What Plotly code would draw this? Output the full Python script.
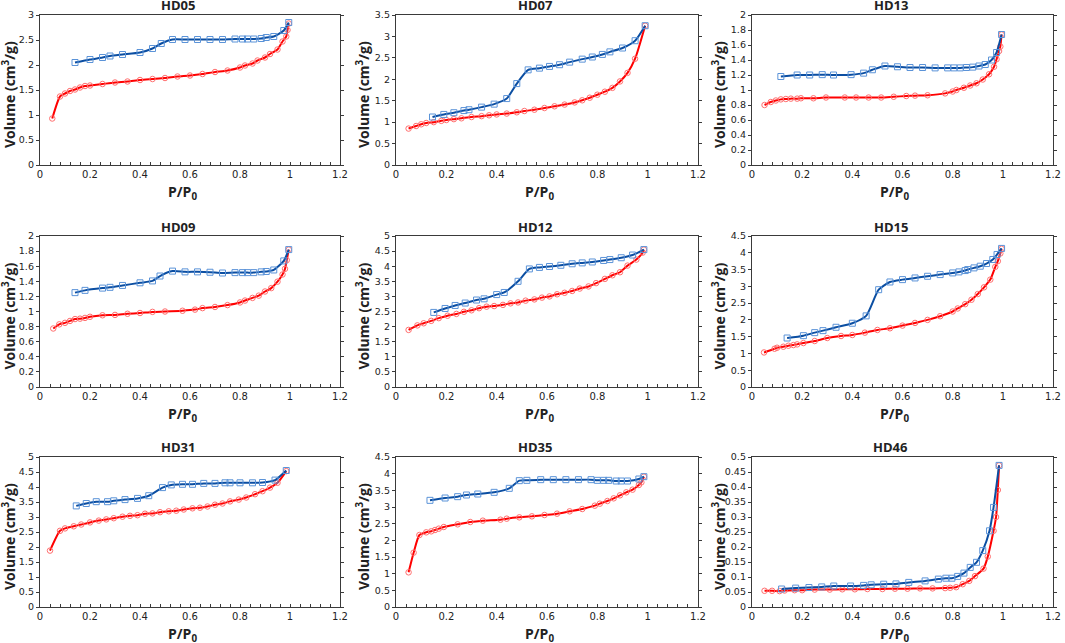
import plotly.graph_objects as go

# ---------------- data ----------------
sample_names = ["HD05", "HD07", "HD13", "HD09", "HD12", "HD15", "HD31", "HD35", "HD46"]

hd05_ads_x = [0.049, 0.08, 0.10, 0.12, 0.14, 0.16, 0.18, 0.20, 0.25, 0.30, 0.35, 0.40, 0.45, 0.50, 0.55, 0.60, 0.65, 0.70, 0.75, 0.80, 0.82, 0.85, 0.87, 0.90, 0.92, 0.95, 0.97, 0.985, 0.99, 0.995]
hd05_ads_y = [0.93, 1.37, 1.43, 1.48, 1.51, 1.55, 1.58, 1.59, 1.62, 1.65, 1.67, 1.70, 1.72, 1.74, 1.77, 1.79, 1.82, 1.86, 1.89, 1.95, 1.99, 2.03, 2.09, 2.15, 2.22, 2.31, 2.47, 2.57, 2.70, 2.83]
hd05_des_x = [0.995, 0.975, 0.935, 0.905, 0.885, 0.855, 0.83, 0.81, 0.78, 0.73, 0.68, 0.63, 0.58, 0.53, 0.485, 0.45, 0.40, 0.33, 0.28, 0.25, 0.20, 0.14]
hd05_des_y = [2.85, 2.69, 2.57, 2.55, 2.53, 2.52, 2.52, 2.52, 2.52, 2.51, 2.51, 2.51, 2.51, 2.51, 2.43, 2.33, 2.25, 2.21, 2.18, 2.15, 2.11, 2.05]

hd07_ads_x = [0.05, 0.08, 0.10, 0.12, 0.15, 0.18, 0.20, 0.23, 0.26, 0.30, 0.34, 0.37, 0.40, 0.44, 0.48, 0.51, 0.55, 0.59, 0.63, 0.67, 0.71, 0.74, 0.77, 0.80, 0.83, 0.86, 0.89, 0.92, 0.95, 0.99]
hd07_ads_y = [0.85, 0.91, 0.95, 0.98, 1.00, 1.03, 1.05, 1.07, 1.09, 1.12, 1.14, 1.16, 1.18, 1.20, 1.23, 1.26, 1.29, 1.33, 1.37, 1.41, 1.46, 1.51, 1.57, 1.64, 1.71, 1.80, 1.95, 2.15, 2.48, 3.25]
hd07_des_x = [0.99, 0.95, 0.90, 0.85, 0.82, 0.78, 0.74, 0.69, 0.65, 0.61, 0.57, 0.525, 0.48, 0.44, 0.39, 0.34, 0.29, 0.27, 0.23, 0.19, 0.145]
hd07_des_y = [3.25, 2.90, 2.73, 2.64, 2.58, 2.52, 2.47, 2.40, 2.34, 2.30, 2.26, 2.22, 1.90, 1.55, 1.42, 1.35, 1.29, 1.27, 1.22, 1.18, 1.12]

hd13_ads_x = [0.05, 0.075, 0.095, 0.115, 0.135, 0.155, 0.18, 0.195, 0.245, 0.295, 0.37, 0.415, 0.465, 0.515, 0.565, 0.615, 0.65, 0.70, 0.77, 0.80, 0.815, 0.845, 0.87, 0.895, 0.92, 0.945, 0.965, 0.975, 0.985, 0.99, 0.995]
hd13_ads_y = [0.80, 0.84, 0.86, 0.875, 0.88, 0.885, 0.885, 0.89, 0.89, 0.90, 0.90, 0.90, 0.90, 0.90, 0.91, 0.92, 0.925, 0.93, 0.955, 0.98, 1.00, 1.03, 1.06, 1.09, 1.14, 1.21, 1.31, 1.41, 1.52, 1.58, 1.74]
hd13_des_x = [0.995, 0.975, 0.955, 0.93, 0.905, 0.88, 0.855, 0.83, 0.805, 0.78, 0.73, 0.68, 0.63, 0.58, 0.53, 0.48, 0.445, 0.395, 0.325, 0.28, 0.23, 0.18, 0.115]
hd13_des_y = [1.74, 1.50, 1.40, 1.34, 1.32, 1.305, 1.30, 1.295, 1.295, 1.295, 1.295, 1.30, 1.30, 1.31, 1.32, 1.27, 1.225, 1.205, 1.20, 1.205, 1.20, 1.20, 1.18]

hd09_ads_x = [0.053, 0.077, 0.10, 0.12, 0.14, 0.16, 0.18, 0.20, 0.25, 0.30, 0.35, 0.40, 0.45, 0.50, 0.57, 0.62, 0.65, 0.70, 0.75, 0.80, 0.82, 0.85, 0.875, 0.90, 0.925, 0.95, 0.97, 0.98, 0.987, 0.995]
hd09_ads_y = [0.775, 0.83, 0.85, 0.875, 0.90, 0.905, 0.915, 0.93, 0.95, 0.955, 0.97, 0.98, 0.995, 1.00, 1.01, 1.025, 1.045, 1.06, 1.085, 1.12, 1.145, 1.18, 1.21, 1.265, 1.31, 1.395, 1.49, 1.565, 1.68, 1.82]
hd09_des_x = [0.995, 0.975, 0.935, 0.905, 0.885, 0.855, 0.83, 0.81, 0.78, 0.73, 0.68, 0.63, 0.58, 0.53, 0.48, 0.45, 0.40, 0.33, 0.28, 0.25, 0.18, 0.14]
hd09_des_y = [1.82, 1.67, 1.55, 1.53, 1.525, 1.515, 1.515, 1.515, 1.515, 1.51, 1.52, 1.525, 1.525, 1.535, 1.47, 1.405, 1.38, 1.345, 1.32, 1.31, 1.28, 1.25]

hd12_ads_x = [0.05, 0.085, 0.11, 0.14, 0.17, 0.205, 0.24, 0.27, 0.30, 0.33, 0.36, 0.39, 0.425, 0.455, 0.485, 0.515, 0.55, 0.58, 0.61, 0.64, 0.67, 0.70, 0.73, 0.765, 0.795, 0.83, 0.86, 0.89, 0.92, 0.955, 0.98, 0.985]
hd12_ads_y = [1.89, 2.04, 2.11, 2.19, 2.28, 2.36, 2.42, 2.49, 2.54, 2.61, 2.66, 2.68, 2.72, 2.77, 2.80, 2.86, 2.90, 2.96, 3.00, 3.07, 3.12, 3.18, 3.26, 3.33, 3.44, 3.58, 3.70, 3.80, 4.02, 4.22, 4.45, 4.55]
hd12_des_x = [0.985, 0.94, 0.895, 0.85, 0.825, 0.78, 0.74, 0.70, 0.655, 0.61, 0.57, 0.53, 0.485, 0.43, 0.40, 0.35, 0.32, 0.275, 0.235, 0.195, 0.15]
hd12_des_y = [4.55, 4.37, 4.28, 4.22, 4.19, 4.14, 4.11, 4.08, 4.03, 3.99, 3.96, 3.91, 3.50, 3.13, 3.06, 2.92, 2.88, 2.78, 2.70, 2.60, 2.47]

hd15_ads_x = [0.048, 0.09, 0.10, 0.125, 0.145, 0.165, 0.18, 0.205, 0.25, 0.30, 0.355, 0.40, 0.45, 0.50, 0.55, 0.60, 0.65, 0.70, 0.75, 0.80, 0.82, 0.85, 0.875, 0.90, 0.925, 0.95, 0.97, 0.98, 0.99, 0.995]
hd15_ads_y = [1.03, 1.14, 1.17, 1.20, 1.23, 1.25, 1.27, 1.31, 1.37, 1.46, 1.52, 1.55, 1.62, 1.70, 1.75, 1.83, 1.91, 2.00, 2.11, 2.25, 2.34, 2.47, 2.60, 2.77, 2.97, 3.20, 3.58, 3.75, 3.98, 4.12]
hd15_des_x = [0.995, 0.977, 0.96, 0.935, 0.91, 0.885, 0.86, 0.85, 0.825, 0.80, 0.75, 0.70, 0.65, 0.60, 0.55, 0.505, 0.455, 0.40, 0.335, 0.283, 0.25, 0.205, 0.14]
hd15_des_y = [4.13, 3.95, 3.80, 3.68, 3.60, 3.55, 3.50, 3.47, 3.43, 3.40, 3.35, 3.30, 3.25, 3.20, 3.13, 2.90, 2.12, 1.90, 1.78, 1.68, 1.62, 1.53, 1.46]

hd31_ads_x = [0.04, 0.08, 0.10, 0.135, 0.165, 0.20, 0.235, 0.265, 0.295, 0.33, 0.36, 0.39, 0.42, 0.45, 0.48, 0.515, 0.545, 0.575, 0.61, 0.64, 0.67, 0.70, 0.73, 0.76, 0.795, 0.825, 0.86, 0.89, 0.92, 0.95, 0.985]
hd31_ads_y = [1.88, 2.54, 2.62, 2.69, 2.75, 2.82, 2.88, 2.92, 2.96, 3.01, 3.04, 3.06, 3.11, 3.12, 3.16, 3.19, 3.21, 3.25, 3.29, 3.31, 3.35, 3.41, 3.45, 3.52, 3.58, 3.65, 3.76, 3.86, 3.98, 4.14, 4.53]
hd31_des_x = [0.985, 0.94, 0.89, 0.85, 0.80, 0.76, 0.74, 0.70, 0.655, 0.61, 0.57, 0.525, 0.49, 0.435, 0.39, 0.34, 0.295, 0.27, 0.225, 0.185, 0.145]
hd31_des_y = [4.55, 4.23, 4.15, 4.14, 4.14, 4.14, 4.14, 4.12, 4.12, 4.09, 4.09, 4.07, 3.98, 3.71, 3.62, 3.58, 3.54, 3.51, 3.51, 3.45, 3.37]

hd35_ads_x = [0.05, 0.07, 0.093, 0.12, 0.14, 0.155, 0.17, 0.19, 0.245, 0.295, 0.345, 0.415, 0.44, 0.49, 0.54, 0.59, 0.64, 0.69, 0.74, 0.79, 0.81, 0.84, 0.865, 0.89, 0.915, 0.94, 0.965, 0.975, 0.985]
hd35_ads_y = [1.04, 1.63, 2.16, 2.24, 2.27, 2.31, 2.35, 2.40, 2.48, 2.55, 2.59, 2.62, 2.65, 2.69, 2.72, 2.76, 2.80, 2.87, 2.94, 3.04, 3.10, 3.18, 3.26, 3.35, 3.44, 3.52, 3.66, 3.74, 3.91]
hd35_des_x = [0.985, 0.965, 0.92, 0.895, 0.875, 0.845, 0.825, 0.80, 0.775, 0.725, 0.675, 0.625, 0.575, 0.52, 0.49, 0.45, 0.39, 0.325, 0.28, 0.245, 0.195, 0.135]
hd35_des_y = [3.91, 3.84, 3.78, 3.78, 3.78, 3.80, 3.80, 3.80, 3.82, 3.82, 3.82, 3.82, 3.82, 3.80, 3.79, 3.56, 3.44, 3.39, 3.36, 3.31, 3.27, 3.20]

hd46_ads_x = [0.05, 0.08, 0.11, 0.13, 0.17, 0.20, 0.25, 0.31, 0.36, 0.41, 0.46, 0.52, 0.57, 0.62, 0.67, 0.72, 0.77, 0.79, 0.814, 0.84, 0.866, 0.889, 0.923, 0.94, 0.963, 0.973, 0.98, 0.985]
hd46_ads_y = [0.054, 0.054, 0.053, 0.055, 0.056, 0.056, 0.058, 0.058, 0.059, 0.059, 0.060, 0.060, 0.061, 0.061, 0.062, 0.062, 0.063, 0.064, 0.066, 0.076, 0.087, 0.103, 0.128, 0.168, 0.254, 0.300, 0.390, 0.472]
hd46_des_x = [0.985, 0.963, 0.947, 0.92, 0.895, 0.87, 0.845, 0.82, 0.797, 0.773, 0.743, 0.69, 0.625, 0.574, 0.525, 0.475, 0.445, 0.393, 0.326, 0.278, 0.227, 0.174, 0.118]
hd46_des_y = [0.472, 0.332, 0.254, 0.188, 0.149, 0.132, 0.113, 0.102, 0.096, 0.096, 0.093, 0.087, 0.082, 0.077, 0.076, 0.074, 0.072, 0.070, 0.070, 0.067, 0.065, 0.063, 0.060]

y_axis_max = [3, 3.5, 2, 2, 5, 4.5, 5, 4.5, 0.5]
y_axis_step = [0.5, 0.5, 0.2, 0.2, 0.5, 0.5, 0.5, 0.5, 0.05]

adsorption = [(hd05_ads_x, hd05_ads_y), (hd07_ads_x, hd07_ads_y), (hd13_ads_x, hd13_ads_y),
              (hd09_ads_x, hd09_ads_y), (hd12_ads_x, hd12_ads_y), (hd15_ads_x, hd15_ads_y),
              (hd31_ads_x, hd31_ads_y), (hd35_ads_x, hd35_ads_y), (hd46_ads_x, hd46_ads_y)]
desorption = [(hd05_des_x, hd05_des_y), (hd07_des_x, hd07_des_y), (hd13_des_x, hd13_des_y),
              (hd09_des_x, hd09_des_y), (hd12_des_x, hd12_des_y), (hd15_des_x, hd15_des_y),
              (hd31_des_x, hd31_des_y), (hd35_des_x, hd35_des_y), (hd46_des_x, hd46_des_y)]

# ---------------- layout (pixels) ----------------
W, H = 1065, 643
col_px = [(40, 340), (396, 698), (752, 1053)]
row_px = [(15, 165), (236, 387), (457, 607)]
title_y_px = [5, 227, 447]
ytitle_offset = [31, 33, 33]

FONT = "Open Sans"
TICK_FONT = "DejaVu Sans"
RED_LINE = "#ff0000"
RED_MK = "#ff6f6f"
BLUE_LINE = "#0b4ea2"
BLUE_MK = "#5b93d8"
AXIS_C = "#3a3a3a"
TEXT_C = "#222222"

def px(x):
    return x / W

def py(y):
    return 1 - y / H

fig = go.Figure()
layout = dict(
    width=W, height=H,
    margin=dict(l=0, r=0, t=0, b=0, pad=0, autoexpand=False),
    paper_bgcolor="white", plot_bgcolor="white",
    showlegend=False,
    font=dict(family=FONT, color=TEXT_C, size=12),
)
annotations = []

for i, name in enumerate(sample_names):
    r, c = divmod(i, 3)
    ax = "" if i == 0 else str(i + 1)
    xa, ya = "x" + ax, "y" + ax
    (x0, x1), (y0, y1) = col_px[c], row_px[r]

    ax_x, ax_y = adsorption[i]
    de_x, de_y = desorption[i]

    for (xs, ys, lc, mc, sym) in [(ax_x, ax_y, RED_LINE, RED_MK, "circle-open"),
                                  (de_x, de_y, BLUE_LINE, BLUE_MK, "square-open")]:
        fig.add_trace(go.Scatter(x=xs, y=ys, mode="lines", xaxis=xa, yaxis=ya,
                                 line=dict(color=lc, width=2, shape="spline", smoothing=0.6),
                                 hoverinfo="skip"))
        fig.add_trace(go.Scatter(x=xs, y=ys, mode="markers", xaxis=xa, yaxis=ya,
                                 marker=dict(symbol=sym, color=mc, size=6 if sym.startswith("square") else 5.5,
                                             line=dict(width=1, color=mc))))

    layout["xaxis" + ax] = dict(
        domain=[px(x0), px(x1)], range=[0, 1.2], dtick=0.2, tick0=0,
        anchor=ya, showgrid=False, zeroline=False, automargin=False,
        showline=True, linecolor=AXIS_C, linewidth=1.3, mirror=True,
        ticks="inside", ticklen=3, tickcolor=AXIS_C,
        minor=dict(dtick=0.04, ticks="inside", ticklen=3, tickcolor=AXIS_C),
        tickfont=dict(family=TICK_FONT, size=10, color=TEXT_C),
    )
    layout["yaxis" + ax] = dict(
        domain=[py(y1), py(y0)], range=[0, y_axis_max[i]], dtick=y_axis_step[i], tick0=0,
        anchor=xa, showgrid=False, zeroline=False, automargin=False,
        showline=True, linecolor=AXIS_C, linewidth=1.3, mirror="ticks",
        ticks="outside", ticklen=3, tickcolor=AXIS_C,
        tickfont=dict(family=TICK_FONT, size=9.5, color=TEXT_C),
    )

    cx = (x0 + x1) / 2 - 12
    annotations.append(dict(text="<b>%s</b>" % name, x=px(cx), y=py(title_y_px[r]),
                            xref="paper", yref="paper", showarrow=False,
                            xanchor="center", yanchor="middle",
                            font=dict(family=FONT, size=13, color=TEXT_C)))
    annotations.append(dict(text="<b>P/P<sub>0</sub></b>", x=px((x0 + x1) / 2 - 8), y=py(y1 + 27),
                            xref="paper", yref="paper", showarrow=False,
                            xanchor="center", yanchor="middle",
                            font=dict(family=FONT, size=14, color=TEXT_C)))
    annotations.append(dict(text="<b>Volume (cm<sup>3</sup>/g)</b>", x=px(x0 - ytitle_offset[c]),
                            y=py((y0 + y1) / 2 + 5),
                            xref="paper", yref="paper", showarrow=False, textangle=-90,
                            xanchor="center", yanchor="middle",
                            font=dict(family=FONT, size=14, color=TEXT_C)))

layout["annotations"] = annotations
fig.update_layout(**layout)
fig.write_html("out.html", config={"displayModeBar": False},
               post_script="document.body.style.margin='0px';")
